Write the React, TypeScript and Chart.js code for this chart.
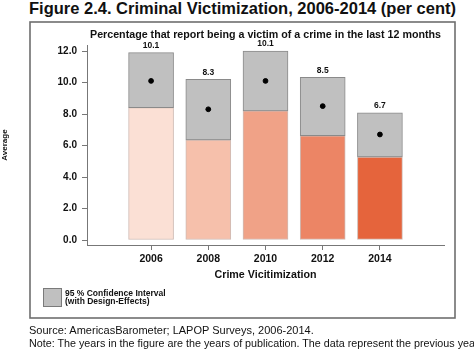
import React, { useEffect, useRef } from 'react';
import { Chart, registerables } from 'chart.js';

Chart.register(...registerables);

const years = [2006, 2008, 2010, 2012, 2014];
const means = [10.1, 8.3, 10.1, 8.5, 6.7];
const lowerCI = [8.4, 6.35, 8.2, 6.62, 5.27];
const upperCI = [11.9, 10.2, 12.0, 10.33, 8.08];
const yTicks = [0, 2, 4, 6, 8, 10, 12];
const barColors = ['#fbe0d5', '#f6c0ab', '#f0a287', '#ec8565', '#e5643c'];

const FONT = "'Liberation Sans', Arial, Helvetica, sans-serif";

const frameBox = {
  id: 'frameBox',
  afterDraw(chart: any) {
    const { ctx } = chart;
    ctx.save();
    ctx.strokeStyle = '#6e6e6e';
    ctx.lineWidth = 1.6;
    ctx.strokeRect(30, 22, 425, 296);
    ctx.restore();
  },
};

const valueLabels = {
  id: 'valueLabels',
  afterDatasetsDraw(chart: any) {
    const { ctx, scales } = chart;
    ctx.save();
    ctx.font = `bold 8.5px ${FONT}`;
    ctx.fillStyle = '#111';
    ctx.textAlign = 'center';
    ctx.textBaseline = 'middle';
    years.forEach((yr, i) => {
      const x = scales.x.getPixelForValue(yr);
      const y = scales.y.getPixelForValue(upperCI[i]) - 7;
      ctx.fillText(means[i].toFixed(1), x, y);
    });
    ctx.restore();
  },
};

export default function App() {
  const ref = useRef<HTMLCanvasElement>(null);

  useEffect(() => {
    if (!ref.current) return;
    const chart = new Chart(ref.current, {
      type: 'bar',
      data: {
        datasets: [
          {
            type: 'scatter',
            label: 'Mean',
            data: years.map((x, i) => ({ x, y: means[i] })),
            backgroundColor: '#000',
            borderColor: '#000',
            pointRadius: 2.4,
            order: 0,
          } as any,
          {
            label: '95 % Confidence Interval',
            data: years.map((x, i) => ({ x, y: [lowerCI[i], upperCI[i]] })),
            backgroundColor: '#c0c0c0',
            borderColor: '#8a8a8a',
            borderWidth: 1,
            borderSkipped: false,
            grouped: false,
            barThickness: 45,
            order: 1,
          },
          {
            label: 'Lower',
            data: years.map((x, i) => ({ x, y: [0, lowerCI[i]] })),
            backgroundColor: barColors,
            borderColor: 'rgba(120,60,40,0.35)',
            borderWidth: 1,
            borderSkipped: false,
            grouped: false,
            barThickness: 45,
            order: 2,
          },
        ],
      },
      options: {
        responsive: false,
        animation: false,
        layout: { padding: { left: 0, right: 30, top: 45, bottom: 65 } },
        plugins: {
          legend: { display: false },
          tooltip: { enabled: false },
          title: { display: false },
        },
        scales: {
          x: {
            type: 'linear',
            min: 2003.76,
            max: 2016.24,
            offset: false,
            afterBuildTicks: (s: any) => {
              s.ticks = years.map((v) => ({ value: v }));
            },
            afterFit: (s: any) => {
              s.height = 40;
            },
            ticks: {
              autoSkip: false,
              maxRotation: 0,
              padding: 3,
              color: '#111',
              font: { family: FONT, size: 10.5, weight: 'bold' },
              callback: (v: any) => String(v),
            },
            grid: { display: true, drawOnChartArea: false, tickLength: 5, color: '#777', offset: false },
            border: { display: true, color: '#777', width: 1 },
            title: {
              display: true,
              text: 'Crime Vicitimization',
              color: '#111',
              font: { family: FONT, size: 10.7, weight: 'bold' },
              padding: { top: 0, bottom: 4 },
            },
          },
          y: {
            type: 'linear',
            min: -0.317,
            max: 12.381,
            afterBuildTicks: (s: any) => {
              s.ticks = yTicks.map((v) => ({ value: v }));
            },
            afterFit: (s: any) => {
              s.width = 87;
            },
            ticks: {
              padding: 5,
              color: '#111',
              font: { family: FONT, size: 10, weight: 'bold' },
              callback: (v: any) => Number(v).toFixed(1),
            },
            grid: { display: true, drawOnChartArea: false, tickLength: 5, color: '#777' },
            border: { display: true, color: '#777', width: 1 },
            title: {
              display: true,
              text: 'Average',
              color: '#111',
              font: { family: FONT, size: 8, weight: 'bold' },
              padding: { top: 0, bottom: 0 },
            },
          },
        },
      },
      plugins: [frameBox, valueLabels],
    });
    return () => chart.destroy();
  }, []);

  const abs = (s: React.CSSProperties): React.CSSProperties => ({ position: 'absolute', whiteSpace: 'nowrap', ...s });

  return (
    <div style={{ position: 'absolute', left: 0, top: 0, width: 474, height: 350, overflow: 'hidden', background: '#fff', fontFamily: FONT, color: '#111' }}>
      <div style={abs({ left: 29, top: -1, fontSize: 16.5, lineHeight: '19px', fontWeight: 'bold' })}>
        Figure 2.4. Criminal Victimization, 2006-2014 (per cent)
      </div>
      <canvas ref={ref} width={474} height={350} style={{ position: 'absolute', left: 0, top: 0 }} />
      <div style={abs({ left: 87, width: 357, top: 28, textAlign: 'center', fontSize: 10.7, lineHeight: '12px', fontWeight: 'bold' })}>
        Percentage that report being a victim of a crime in the last 12 months
      </div>
      <div style={abs({ left: 43, top: 288, width: 19, height: 19, boxSizing: 'border-box', background: '#c0c0c0', border: '1px solid #7a7a7a' })} />
      <div style={abs({ left: 65, top: 289, fontSize: 8.5, lineHeight: '8px', fontWeight: 'bold' })}>
        95 % Confidence Interval
        <br />
        (with Design-Effects)
      </div>
      <div style={abs({ left: 29, top: 324, fontSize: 11, lineHeight: '13px' })}>
        Source: AmericasBarometer; LAPOP Surveys, 2006-2014.
      </div>
      <div style={abs({ left: 29, top: 337, fontSize: 10.75, lineHeight: '13px' })}>
        Note: The years in the figure are the years of publication. The data represent the previous year.
      </div>
    </div>
  );
}
